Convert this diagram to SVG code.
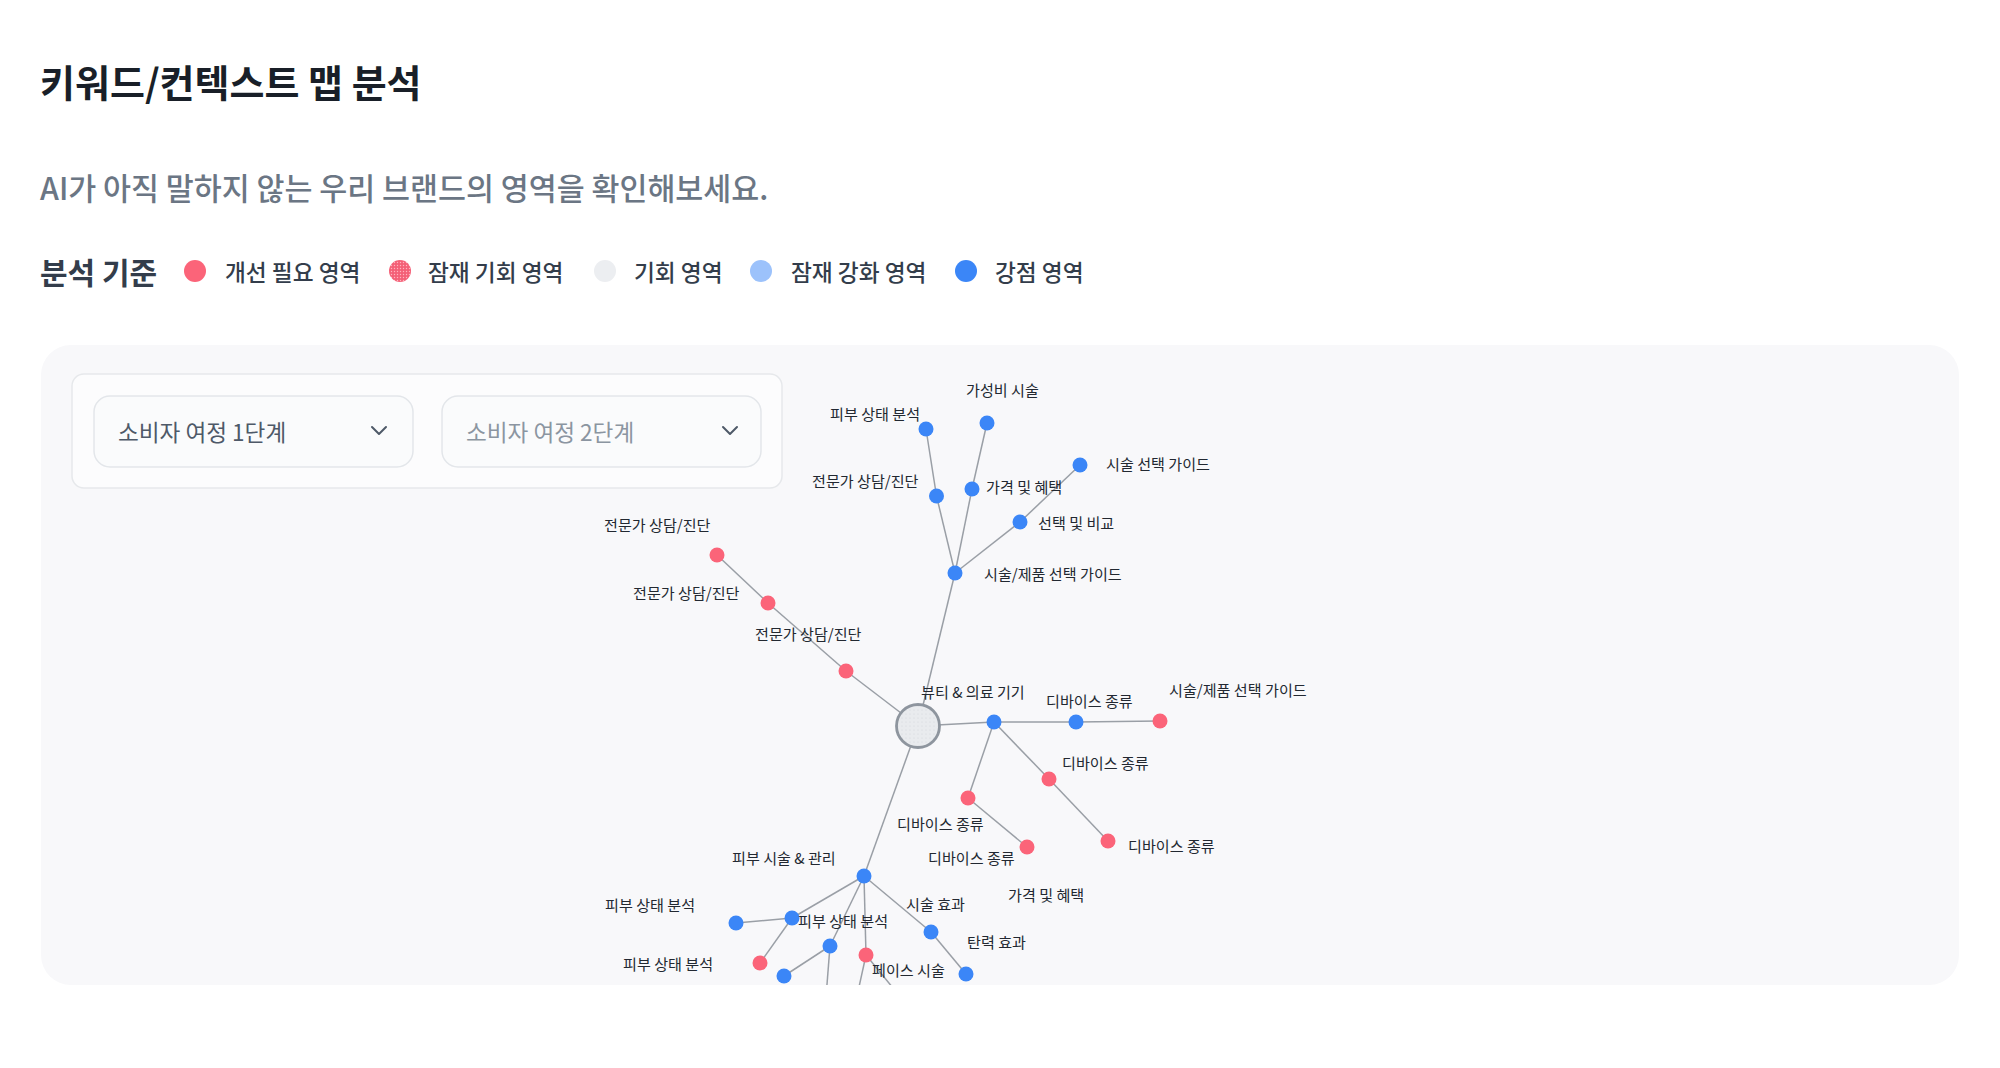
<svg xmlns="http://www.w3.org/2000/svg" width="2000" height="1068" viewBox="0 0 2000 1068">
<defs>
<style>
text{font-family:"Noto Sans CJK KR","Noto Sans",sans-serif;dominant-baseline:central}
.title{font-size:38px;font-weight:700;fill:#191f28}
.sub{font-size:30.4px;font-weight:500;fill:#6b7684}
.lgh{font-size:30px;font-weight:700;fill:#333d4b}
.lg{font-size:22.7px;font-weight:500;fill:#333d4b}
.dd{font-size:22.6px;font-weight:400}
.lbl{font-size:15.1px;fill:#222831}
.edge{stroke:#9a9fa6;stroke-width:1.5;fill:none}
.blue{fill:#3b86f7}
.red{fill:#fb6479}
</style>
<pattern id="dotsRed" width="3" height="3" patternUnits="userSpaceOnUse">
<rect width="3" height="3" fill="#f46077"/>
<circle cx="1.5" cy="1.5" r="0.7" fill="#ffb3be"/>
</pattern>
<pattern id="dotsGray" width="4" height="4" patternUnits="userSpaceOnUse">
<rect width="4" height="4" fill="#e9ebee"/>
<circle cx="2" cy="2" r="0.6" fill="#d3d7dc"/>
</pattern>
<clipPath id="panelClip"><rect x="41" y="345" width="1918" height="640" rx="30"/></clipPath>
</defs>
<rect width="2000" height="1068" fill="#ffffff"/>
<text class="title" x="40" y="80">키워드/컨텍스트 맵 분석</text>
<text class="sub" x="40" y="187">AI가 아직 말하지 않는 우리 브랜드의 영역을 확인해보세요.</text>
<g id="legend">
<text class="lgh" x="40" y="271">분석 기준</text>
<circle cx="195" cy="271" r="11" fill="#fb6479"/>
<text class="lg" x="225" y="271">개선 필요 영역</text>
<circle cx="400" cy="271" r="11" fill="url(#dotsRed)"/>
<text class="lg" x="428" y="271">잠재 기회 영역</text>
<circle cx="605" cy="271" r="11" fill="#eceef1"/>
<text class="lg" x="634" y="271">기회 영역</text>
<circle cx="761" cy="271" r="11" fill="#9cc2fb"/>
<text class="lg" x="791" y="271">잠재 강화 영역</text>
<circle cx="966" cy="271" r="11" fill="#3b86f7"/>
<text class="lg" x="995" y="271">강점 영역</text>
</g>
<rect id="panel" x="41" y="345" width="1918" height="640" rx="30" fill="#f8f8fa"/>
<g id="filters">
<rect x="72" y="374" width="710" height="114" rx="12" fill="#fcfcfd" stroke="#e6e8eb" stroke-width="1.5"/>
<g id="dropdown1">
<rect x="94" y="396" width="319" height="71" rx="16" fill="#fafbfc" stroke="#e3e6ea" stroke-width="1.5"/>
<text class="dd" x="118" y="431" fill="#4e5968">소비자 여정 1단계</text>
<path d="M372,427 L379,434 L386,427" fill="none" stroke="#4e5968" stroke-width="2" stroke-linecap="round" stroke-linejoin="round"/>
</g>
<g id="dropdown2">
<rect x="442" y="396" width="319" height="71" rx="16" fill="#fafbfc" stroke="#e3e6ea" stroke-width="1.5"/>
<text class="dd" x="466" y="431" fill="#8b95a1">소비자 여정 2단계</text>
<path d="M723,427 L730,434 L737,427" fill="none" stroke="#4e5968" stroke-width="2" stroke-linecap="round" stroke-linejoin="round"/>
</g>
</g>
<g clip-path="url(#panelClip)">
<g id="connectors">
<line class="edge" x1="918" y1="726" x2="955" y2="573"/>
<line class="edge" x1="955" y1="573" x2="936.5" y2="496"/>
<line class="edge" x1="936.5" y1="496" x2="926" y2="429"/>
<line class="edge" x1="955" y1="573" x2="972" y2="489"/>
<line class="edge" x1="972" y1="489" x2="987" y2="423"/>
<line class="edge" x1="955" y1="573" x2="1020" y2="522"/>
<line class="edge" x1="1020" y1="522" x2="1080" y2="465"/>
<line class="edge" x1="918" y1="726" x2="846" y2="671"/>
<line class="edge" x1="846" y1="671" x2="768" y2="603"/>
<line class="edge" x1="768" y1="603" x2="717" y2="555"/>
<line class="edge" x1="918" y1="726" x2="994" y2="722"/>
<line class="edge" x1="994" y1="722" x2="1076" y2="722"/>
<line class="edge" x1="1076" y1="722" x2="1160" y2="721"/>
<line class="edge" x1="994" y1="722" x2="1049" y2="779"/>
<line class="edge" x1="1049" y1="779" x2="1108" y2="841"/>
<line class="edge" x1="994" y1="722" x2="968" y2="798"/>
<line class="edge" x1="968" y1="798" x2="1027" y2="847"/>
<line class="edge" x1="918" y1="726" x2="864" y2="876"/>
<line class="edge" x1="864" y1="876" x2="792" y2="918"/>
<line class="edge" x1="792" y1="918" x2="736" y2="923"/>
<line class="edge" x1="792" y1="918" x2="760" y2="963"/>
<line class="edge" x1="864" y1="876" x2="830" y2="946"/>
<line class="edge" x1="830" y1="946" x2="784" y2="976"/>
<line class="edge" x1="830" y1="946" x2="825" y2="1010"/>
<line class="edge" x1="864" y1="876" x2="866" y2="955"/>
<line class="edge" x1="866" y1="955" x2="854" y2="1010"/>
<line class="edge" x1="866" y1="955" x2="911" y2="1010"/>
<line class="edge" x1="864" y1="876" x2="931" y2="932"/>
<line class="edge" x1="931" y1="932" x2="966" y2="974"/>
</g>
<g id="node-center"><circle cx="918" cy="726" r="21.5" fill="url(#dotsGray)" stroke="#8e959e" stroke-width="2.8"/><text class="lbl" x="921" y="691">뷰티 &amp; 의료 기기</text></g>
<g id="node-g1"><circle class="blue" cx="955" cy="573" r="7.5"/><text class="lbl" x="984" y="573">시술/제품 선택 가이드</text></g>
<g id="node-g2"><circle class="blue" cx="936.5" cy="496" r="7.5"/><text class="lbl" x="812" y="480">전문가 상담/진단</text></g>
<g id="node-g3"><circle class="blue" cx="926" cy="429" r="7.5"/><text class="lbl" x="830" y="413">피부 상태 분석</text></g>
<g id="node-g4"><circle class="blue" cx="972" cy="489" r="7.5"/><text class="lbl" x="986" y="486">가격 및 혜택</text></g>
<g id="node-g5"><circle class="blue" cx="987" cy="423" r="7.5"/><text class="lbl" x="966" y="389">가성비 시술</text></g>
<g id="node-g6"><circle class="blue" cx="1020" cy="522" r="7.5"/><text class="lbl" x="1038" y="522">선택 및 비교</text></g>
<g id="node-g7"><circle class="blue" cx="1080" cy="465" r="7.5"/><text class="lbl" x="1106" y="463">시술 선택 가이드</text></g>
<g id="node-r1"><circle class="red" cx="846" cy="671" r="7.5"/><text class="lbl" x="755" y="633">전문가 상담/진단</text></g>
<g id="node-r2"><circle class="red" cx="768" cy="603" r="7.5"/><text class="lbl" x="633" y="592">전문가 상담/진단</text></g>
<g id="node-r3"><circle class="red" cx="717" cy="555" r="7.5"/><text class="lbl" x="604" y="524">전문가 상담/진단</text></g>
<g id="node-a"><circle class="blue" cx="994" cy="722" r="7.5"/></g>
<g id="node-b"><circle class="blue" cx="1076" cy="722" r="7.5"/><text class="lbl" x="1046" y="700">디바이스 종류</text></g>
<g id="node-c"><circle class="red" cx="1160" cy="721" r="7.5"/><text class="lbl" x="1169" y="689">시술/제품 선택 가이드</text></g>
<g id="node-d"><circle class="red" cx="1049" cy="779" r="7.5"/><text class="lbl" x="1062" y="762">디바이스 종류</text></g>
<g id="node-e"><circle class="red" cx="1108" cy="841" r="7.5"/><text class="lbl" x="1128" y="845">디바이스 종류</text></g>
<g id="node-f"><circle class="red" cx="968" cy="798" r="7.5"/><text class="lbl" x="897" y="823">디바이스 종류</text></g>
<g id="node-h"><circle class="red" cx="1027" cy="847" r="7.5"/><text class="lbl" x="928" y="857">디바이스 종류</text></g>
<g id="node-p"><circle class="blue" cx="864" cy="876" r="7.5"/><text class="lbl" x="732" y="857">피부 시술 &amp; 관리</text></g>
<g id="node-p2"><circle class="blue" cx="736" cy="923" r="7.5"/><text class="lbl" x="605" y="904">피부 상태 분석</text></g>
<g id="node-p3"><circle class="red" cx="760" cy="963" r="7.5"/><text class="lbl" x="623" y="963">피부 상태 분석</text></g>
<g id="node-p4"><circle class="blue" cx="830" cy="946" r="7.5"/></g>
<g id="node-p5"><circle class="blue" cx="784" cy="976" r="7.5"/></g>
<g id="node-p6"><circle class="red" cx="866" cy="955" r="7.5"/><text class="lbl" x="872" y="969">페이스 시술</text></g>
<g id="node-p1"><circle class="blue" cx="792" cy="918" r="7.5"/><text class="lbl" x="798" y="920">피부 상태 분석</text></g>
<g id="node-p7"><circle class="blue" cx="931" cy="932" r="7.5"/><text class="lbl" x="906" y="903">시술 효과</text></g>
<g id="node-p8"><circle class="blue" cx="966" cy="974" r="7.5"/><text class="lbl" x="967" y="941">탄력 효과</text></g>
<g id="node-x"><text class="lbl" x="1008" y="894">가격 및 혜택</text></g>
</g>
</svg>
